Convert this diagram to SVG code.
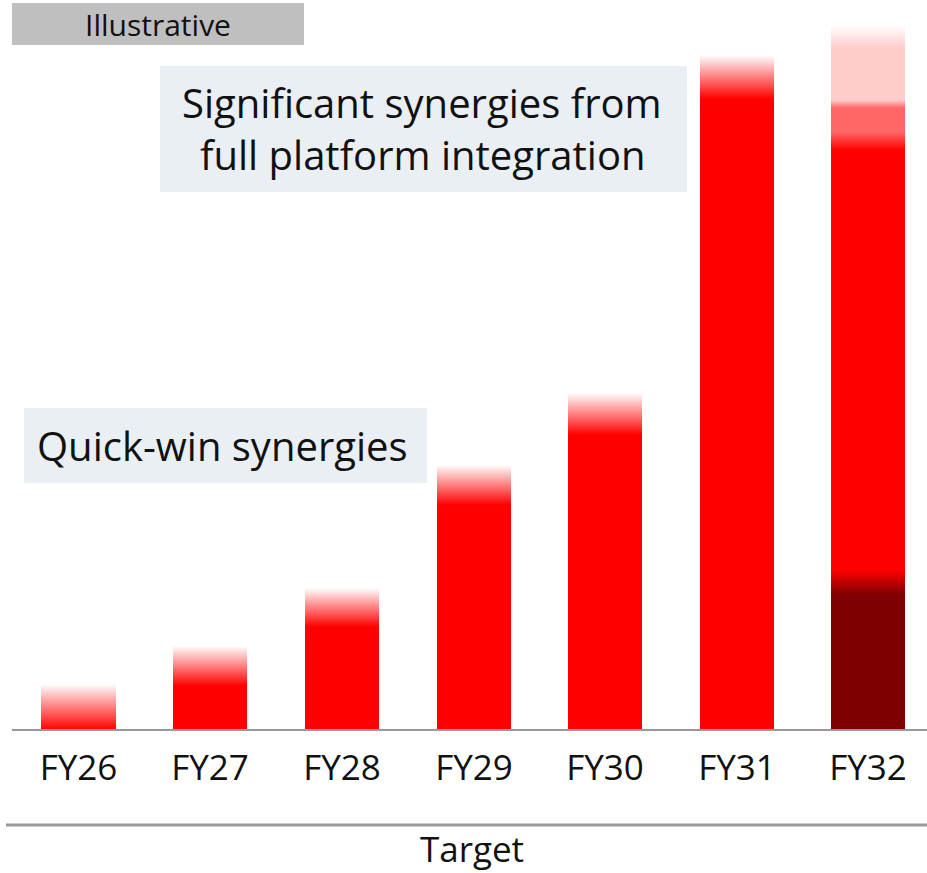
<svg xmlns="http://www.w3.org/2000/svg" width="927" height="873" viewBox="0 0 927 873">
  <defs>
    <linearGradient id="fade" x1="0" y1="0" x2="0" y2="1">
      <stop offset="0" stop-color="#ffffff"/>
      <stop offset="1" stop-color="#ff0000"/>
    </linearGradient>
    <linearGradient id="fadePink" x1="0" y1="0" x2="0" y2="1">
      <stop offset="0" stop-color="#ffffff"/>
      <stop offset="1" stop-color="#ffcccc"/>
    </linearGradient>
    <linearGradient id="pinkToSalmon" x1="0" y1="0" x2="0" y2="1">
      <stop offset="0" stop-color="#ffcccc"/>
      <stop offset="1" stop-color="#ff6666"/>
    </linearGradient>
    <linearGradient id="salmonToRed" x1="0" y1="0" x2="0" y2="1">
      <stop offset="0" stop-color="#ff6666"/>
      <stop offset="1" stop-color="#ff0000"/>
    </linearGradient>
    <linearGradient id="redToDark" x1="0" y1="0" x2="0" y2="1">
      <stop offset="0" stop-color="#ff0000"/>
      <stop offset="1" stop-color="#7f0000"/>
    </linearGradient>
  </defs>
  <style>
    text { font-family: "Open Sans", "Noto Sans", "Liberation Sans", sans-serif; fill: #111111; }
    .tick { font-size: 35px; text-anchor: middle; }
    .callout { font-size: 40px; }
    .box { fill: #e9eff3; }
    .red { fill: #ff0000; }
  </style>

  <!-- badge -->
  <g id="badge">
    <rect x="12" y="3" width="292" height="42" fill="#bfbfbf"/>
    <text x="158" y="36" font-size="30" text-anchor="middle">Illustrative</text>
  </g>

  <!-- bars -->
  <g id="bar-fy26">
    <rect x="41" y="684" width="75" height="46" fill="url(#fade)"/>
  </g>
  <g id="bar-fy27">
    <rect x="173" y="646" width="74" height="40" fill="url(#fade)"/>
    <rect x="173" y="686" width="74" height="44" class="red"/>
  </g>
  <g id="bar-fy28">
    <rect x="305" y="588" width="74" height="39" fill="url(#fade)"/>
    <rect x="305" y="627" width="74" height="103" class="red"/>
  </g>
  <g id="bar-fy29">
    <rect x="437" y="465" width="74" height="40" fill="url(#fade)"/>
    <rect x="437" y="505" width="74" height="225" class="red"/>
  </g>
  <g id="bar-fy30">
    <rect x="568" y="393" width="74" height="42" fill="url(#fade)"/>
    <rect x="568" y="435" width="74" height="295" class="red"/>
  </g>
  <g id="bar-fy31">
    <rect x="700" y="55" width="74" height="44" fill="url(#fade)"/>
    <rect x="700" y="99" width="74" height="631" class="red"/>
  </g>
  <g id="bar-fy32">
    <rect x="831" y="25" width="74" height="23" fill="url(#fadePink)"/>
    <rect x="831" y="48" width="74" height="52" fill="#ffcccc"/>
    <rect x="831" y="100" width="74" height="8" fill="url(#pinkToSalmon)"/>
    <rect x="831" y="108" width="74" height="24" fill="#ff6666"/>
    <rect x="831" y="132" width="74" height="18" fill="url(#salmonToRed)"/>
    <rect x="831" y="150" width="74" height="420" class="red"/>
    <rect x="831" y="570" width="74" height="25" fill="url(#redToDark)"/>
    <rect x="831" y="595" width="74" height="135" fill="#7f0000"/>
  </g>

  <!-- axes -->
  <g id="axes">
    <line x1="12" y1="730" x2="927" y2="730" stroke="#999999" stroke-width="2"/>
    <line x1="6" y1="825" x2="927" y2="825" stroke="#999999" stroke-width="3"/>
  </g>

  <!-- category labels -->
  <g id="labels">
    <text class="tick" x="78.5" y="780">FY26</text>
    <text class="tick" x="210" y="780">FY27</text>
    <text class="tick" x="342" y="780">FY28</text>
    <text class="tick" x="474" y="780">FY29</text>
    <text class="tick" x="605" y="780">FY30</text>
    <text class="tick" x="737" y="780">FY31</text>
    <text class="tick" x="868" y="780">FY32</text>
    <text class="tick" x="472" y="862">Target</text>
  </g>

  <!-- callouts -->
  <g id="callout-full">
    <rect x="160" y="66" width="527" height="126" class="box"/>
    <text class="callout" x="182" y="118">Significant synergies from</text>
    <text class="callout" x="200" y="170">full platform integration</text>
  </g>
  <g id="callout-quick">
    <rect x="24" y="408" width="403" height="75" class="box"/>
    <text class="callout" x="37" y="461">Quick-win synergies</text>
  </g>
</svg>
